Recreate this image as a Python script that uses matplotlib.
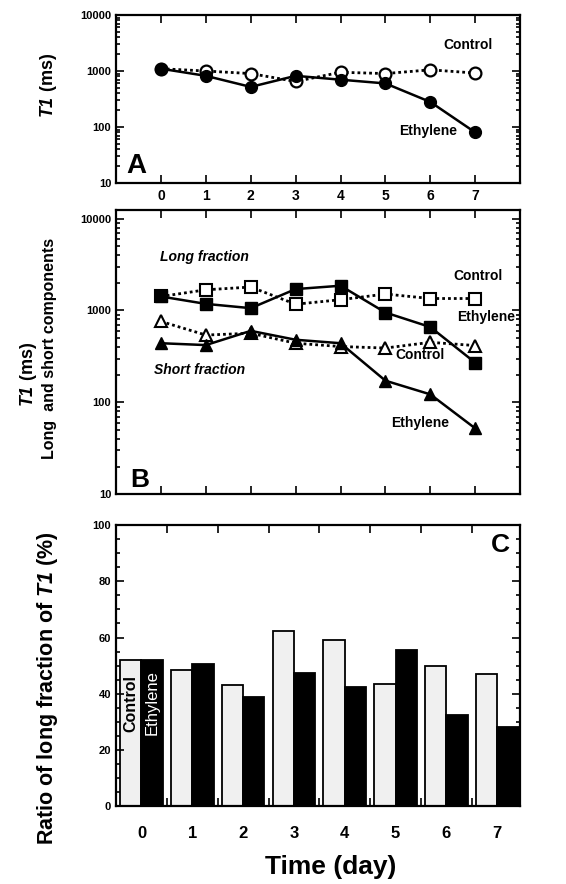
import numpy as np
import matplotlib
matplotlib.use("Agg")
import matplotlib.pyplot as plt
from matplotlib.ticker import FixedLocator, NullFormatter, MultipleLocator, LogLocator

plt.rcParams['font.family'] = ['Liberation Sans', 'DejaVu Sans']
plt.rcParams['font.weight'] = 'bold'
plt.rcParams['axes.labelweight'] = 'bold'
plt.rcParams['mathtext.fontset'] = 'custom'
plt.rcParams['mathtext.bfit'] = 'Liberation Sans:italic:bold'
plt.rcParams['mathtext.it'] = 'Liberation Sans:italic:bold'
plt.rcParams['mathtext.rm'] = 'Liberation Sans:bold'

days = [0, 1, 2, 3, 4, 5, 6, 7]

# panel A: T1 (ms)
a_control = [1100, 1000, 900, 650, 950, 900, 1050, 920]
a_ethylene = [1100, 820, 520, 820, 700, 600, 280, 80]

# panel B: long / short components (ms)
b_long_control = [1420, 1680, 1800, 1170, 1310, 1510, 1350, 1350]
b_long_ethylene = [1420, 1180, 1060, 1710, 1860, 950, 660, 270]
b_short_control = [760, 540, 565, 440, 405, 390, 450, 415]
b_short_ethylene = [440, 420, 600, 480, 440, 172, 122, 52]

# panel C: ratio of long fraction (%)
c_control = [52, 48.5, 43, 62.3, 59, 43.3, 49.8, 47]
c_ethylene = [52, 50.5, 39, 47.5, 42.5, 55.5, 32.5, 28.2]

dotted = (0, (1, 1.1))

fig = plt.figure(figsize=(5.66, 8.84), dpi=100)
axA = fig.add_axes([0.205, 0.793, 0.714, 0.190])
axB = fig.add_axes([0.205, 0.441, 0.714, 0.321])
axC = fig.add_axes([0.205, 0.088, 0.714, 0.318])

# ---- A ----
axA.plot(days, a_control, linestyle=dotted, color='black', lw=2, marker='o', ms=8.5,
         mfc='white', mec='black', mew=1.6, zorder=2)
axA.plot(days, a_ethylene, linestyle='-', color='black', lw=1.8, marker='o', ms=8.5,
         mfc='black', mec='black', zorder=3)
axA.set_yscale('log')
axA.set_ylim(10, 10000)
axA.set_xlim(-1, 8)
axA.set_xticks(days)
axA.tick_params(axis='x', labelsize=10, pad=4)
axA.text(6.84, 2900, 'Control', ha='center', va='center', fontsize=10)
axA.text(5.96, 85, 'Ethylene', ha='center', va='center', fontsize=10)
axA.text(0.025, 0.1, 'A', transform=axA.transAxes, fontsize=20, ha='left', va='center')
axA.set_ylabel(r'$\mathbfit{T1}$ (ms)', fontsize=13)
axA.yaxis.set_label_coords(-0.14, 0.58)

# ---- B ----
axB.plot(days, b_long_control, linestyle=dotted, color='black', lw=2, marker='s', ms=8,
         mfc='white', mec='black', mew=1.5, zorder=2)
axB.plot(days, b_long_ethylene, linestyle='-', color='black', lw=1.8, marker='s', ms=8,
         mfc='black', mec='black', zorder=3)
axB.plot(days, b_short_control, linestyle=dotted, color='black', lw=2, marker='^', ms=9,
         mfc='white', mec='black', mew=1.5, zorder=2)
axB.plot(days, b_short_ethylene, linestyle='-', color='black', lw=1.8, marker='^', ms=9,
         mfc='black', mec='black', zorder=3)
axB.set_yscale('log')
axB.set_ylim(10, 12300)
axB.set_xlim(-1, 8)
axB.set_xticks(days)
axB.tick_params(axis='x', labelbottom=False)
axB.text(0.98, 3800, 'Long fraction', ha='center', va='center', fontsize=10, style='italic')
axB.text(0.87, 223, 'Short fraction', ha='center', va='center', fontsize=10, style='italic')
axB.text(7.06, 2400, 'Control', ha='center', va='center', fontsize=10)
axB.text(7.24, 850, 'Ethylene', ha='center', va='center', fontsize=10)
axB.text(5.77, 325, 'Control', ha='center', va='center', fontsize=10)
axB.text(5.77, 59, 'Ethylene', ha='center', va='center', fontsize=10)
axB.text(0.035, 0.05, 'B', transform=axB.transAxes, fontsize=19, ha='left', va='center')
axB.set_ylabel('Long  and short components', fontsize=11.5)
axB.yaxis.set_label_coords(-0.145, 0.514)
fig.text(0.05, 0.576, r'$\mathbfit{T1}$ (ms)', rotation=90, fontsize=13, ha='center', va='center')

for ax in (axA, axB):
    ax.yaxis.set_major_locator(LogLocator(base=10, numticks=10))
    ax.yaxis.set_minor_locator(LogLocator(base=10, subs=np.arange(2, 10), numticks=20))
    ax.yaxis.set_minor_formatter(NullFormatter())
    ax.set_yticks([10, 100, 1000, 10000], ['10', '100', '1000', '10000'])
    ax.tick_params(axis='y', labelsize=8)
    ax.tick_params(which='both', direction='in', top=True, right=True, width=1.2)
    ax.tick_params(which='major', length=6)
    ax.tick_params(which='minor', length=3)

# ---- C ----
xs = np.array(days)
w = 0.42
axC.bar(xs - w / 2, c_control, width=w, color='#f0f0f0', edgecolor='black', lw=1.3)
axC.bar(xs + w / 2, c_ethylene, width=w, color='black', edgecolor='black', lw=1.3)
axC.set_xlim(-0.5, 7.45)
axC.set_ylim(0, 100)
axC.set_xticks(days)
axC.xaxis.set_minor_locator(FixedLocator(np.arange(0.5, 7, 1)))
axC.tick_params(axis='x', which='major', length=0, labelsize=12, pad=14)
axC.tick_params(axis='x', which='minor', length=6, direction='in', top=True, width=1.2)
axC.yaxis.set_major_locator(MultipleLocator(20))
axC.yaxis.set_minor_locator(MultipleLocator(5))
axC.tick_params(axis='y', which='both', direction='in', right=True, width=1.2, labelsize=8)
axC.tick_params(axis='y', which='major', length=6)
axC.tick_params(axis='y', which='minor', length=3)
axC.text(-0.21, 36.7, 'Control', rotation=90, ha='center', va='center', fontsize=11.5, color='black')
axC.text(0.21, 37, 'Ethylene', rotation=90, ha='center', va='center', fontsize=12,
         color='white', fontweight='normal')
axC.text(0.975, 0.93, 'C', transform=axC.transAxes, fontsize=19, ha='right', va='center')
axC.set_ylabel(r'Ratio of long fraction of $\mathbfit{T1}$ (%)', fontsize=15.5)
axC.yaxis.set_label_coords(-0.138, 0.42)
axC.set_xlabel('Time (day)', fontsize=19)
axC.xaxis.set_label_coords(0.53, -0.175)

for ax in (axA, axB, axC):
    for s in ax.spines.values():
        s.set_linewidth(1.6)

fig.savefig('out.png', dpi=100)
